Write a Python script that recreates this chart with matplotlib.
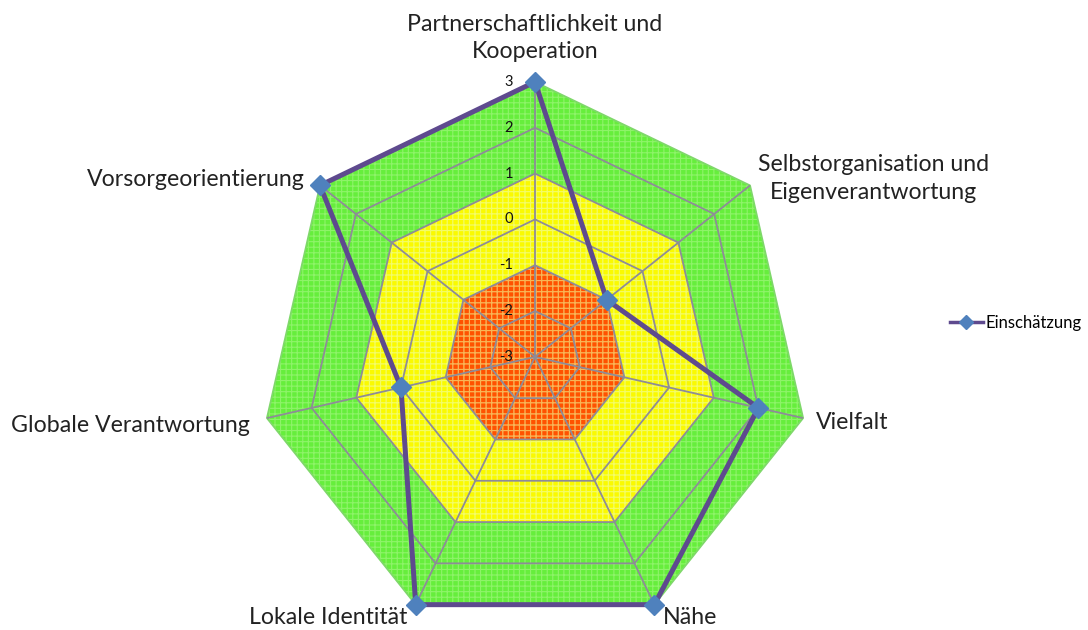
import numpy as np
import matplotlib
matplotlib.use("Agg")
import matplotlib.pyplot as plt
from matplotlib.lines import Line2D

categories = ["Partnerschaftlichkeit und\nKooperation",
              "Selbstorganisation und\nEigenverantwortung",
              "Vielfalt", "Nähe", "Lokale Identität",
              "Globale Verantwortung", "Vorsorgeorientierung"]
values = [3, -1, 2, 3, 3, 0, 3]
series_name = "Einschätzung"
ring_levels = [-3, -2, -1, 0, 1, 2, 3]
zones = [(3, "#66EE3C", (0.85, 1.0, 0.75, 0.35)),
         (1, "#FAFA00", (1.0, 1.0, 0.7, 0.35)),
         (-1, "#FF5200", (1.0, 0.72, 0.2, 0.35))]

plt.rcParams['font.family'] = ['Lato', 'DejaVu Sans']
plt.rcParams['hatch.linewidth'] = 0.8
fig = plt.figure(figsize=(10.88, 6.30), dpi=100)
ax = fig.add_axes([0.239, -0.003, 0.5055, 0.873], projection='polar')
ax.set_theta_offset(np.pi / 2)
ax.set_theta_direction(-1)
ax.set_ylim(-3, 3)

n = len(categories)
theta = np.arange(n) * 2 * np.pi / n
theta_c = np.append(theta, theta[0])

# zone fills
for lvl, col, hcol in zones:
    ax.fill(theta_c, [lvl] * (n + 1), color=col, lw=0, zorder=1)
    ax.fill(theta_c, [lvl] * (n + 1), facecolor='none', edgecolor=hcol,
            hatch='+++', lw=0, zorder=1.1)

# polygon grid
for lvl in ring_levels[1:]:
    gc = '#8E8C98'
    if lvl == 3:
        gc = '#7FD86A'
    ax.plot(theta_c, [lvl] * (n + 1), color=gc, lw=1.3, zorder=2, clip_on=False)
for t in theta:
    ax.plot([t, t], [-3, 3], color='#8E8C98', lw=1.3, zorder=2)

ax.grid(False)
ax.spines['polar'].set_visible(False)
ax.set_xticks([])
ax.set_yticks([])

# radial tick labels
for lvl in ring_levels:
    ax.annotate(str(lvl), xy=(0, lvl), xytext=(-16, 0), textcoords='offset points',
                ha='right', va='center', fontsize=10.5, color='#111111', zorder=5,
                annotation_clip=False)

# data
vals_c = values + [values[0]]
ax.plot(theta_c, vals_c, color='#5E4A8E', lw=3.6, zorder=3, clip_on=False)
ax.plot(theta, values, ls='none', marker='D', ms=10, color='#4F81BD', zorder=4,
        clip_on=False)

# category labels (offsets in points)
label_pos = [((0, 14), 'center', 'bottom'),
             ((6, 5), 'left', 'center'),
             ((9, -3), 'left', 'center'),
             ((6, -9), 'left', 'center'),
             ((-6, -9), 'right', 'center'),
             ((-12, -5), 'right', 'center'),
             ((-11, 4), 'right', 'center')]
for i, (cat, (off, ha, va)) in enumerate(zip(categories, label_pos)):
    ax.annotate(cat, xy=(theta[i], 3), xytext=off, textcoords='offset points',
                ha=ha, va=va, fontsize=16.7, color='#222222', multialignment='center',
                linespacing=1.4, annotation_clip=False, zorder=6)

handle = Line2D([], [], color='#5E4A8E', lw=2.5, marker='D', ms=7,
                markerfacecolor='#4F81BD', markeredgecolor='#4F81BD')
fig.legend([handle], [series_name], loc='center left', bbox_to_anchor=(0.873, 0.487),
           frameon=False, fontsize=12, handlelength=2.0, handletextpad=0.15,
           borderpad=0, borderaxespad=0)

fig.savefig('out.png', dpi=100)
